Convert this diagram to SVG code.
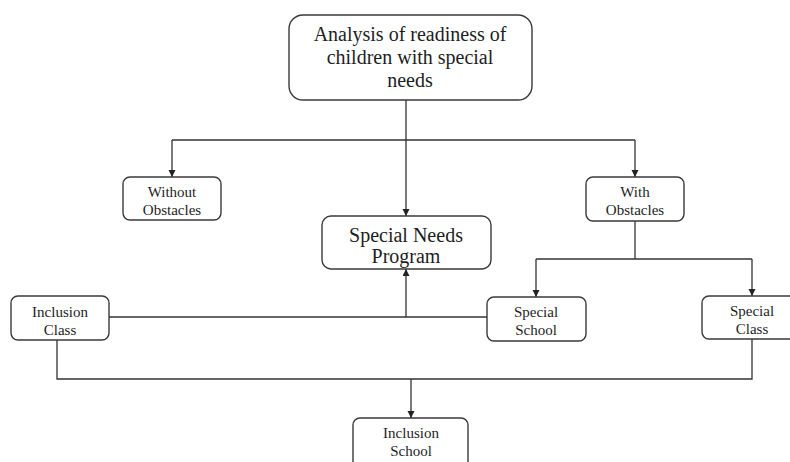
<svg xmlns="http://www.w3.org/2000/svg" width="790" height="462" viewBox="0 0 790 462">
  <style>
    .box { fill: #ffffff; stroke: #3a3a3a; stroke-width: 1.4; }
    .t { font-family: "Liberation Serif", "Times New Roman", serif; fill: #1e1e1e; text-anchor: middle; }
    .big { font-size: 20px; }
    .sm { font-size: 15px; }
    .ln { fill: none; stroke: #333333; stroke-width: 1.3; }
  </style>
  <defs>
    <marker id="arr" markerUnits="userSpaceOnUse" markerWidth="8" markerHeight="8" refX="7" refY="3.5" orient="auto">
      <path d="M0,0 L7,3.5 L0,7 z" fill="#222222"/>
    </marker>
  </defs>
  <rect width="790" height="462" fill="#ffffff"/>

  <g id="connectors">
    <path class="ln" d="M406,100 V216" marker-end="url(#arr)"/>
    <path class="ln" d="M172,140 H635"/>
    <path class="ln" d="M172,140 V177" marker-end="url(#arr)"/>
    <path class="ln" d="M635,140 V177" marker-end="url(#arr)"/>
    <path class="ln" d="M635,221 V259"/>
    <path class="ln" d="M536,259 H752"/>
    <path class="ln" d="M536,259 V297" marker-end="url(#arr)"/>
    <path class="ln" d="M752,259 V296" marker-end="url(#arr)"/>
    <path class="ln" d="M109,317 H487"/>
    <path class="ln" d="M406,317 V269" marker-end="url(#arr)"/>
    <path class="ln" d="M57,340 V379 H752 V339"/>
    <path class="ln" d="M411,379 V418" marker-end="url(#arr)"/>
  </g>

  <g id="analysis">
    <rect class="box" x="289" y="15" width="243" height="85" rx="14"/>
    <text class="t big" x="410" y="41">Analysis of readiness of</text>
    <text class="t big" x="410" y="64">children with special</text>
    <text class="t big" x="410" y="87">needs</text>
  </g>

  <g id="without-obstacles">
    <rect class="box" x="123" y="177" width="98" height="43" rx="7"/>
    <text class="t sm" x="172" y="197">Without</text>
    <text class="t sm" x="172" y="215">Obstacles</text>
  </g>

  <g id="with-obstacles">
    <rect class="box" x="586" y="177" width="98" height="44" rx="7"/>
    <text class="t sm" x="635" y="197">With</text>
    <text class="t sm" x="635" y="215">Obstacles</text>
  </g>

  <g id="special-needs-program">
    <rect class="box" x="322" y="216" width="169" height="53" rx="9"/>
    <text class="t big" x="406" y="242">Special Needs</text>
    <text class="t big" x="406" y="263">Program</text>
  </g>

  <g id="inclusion-class">
    <rect class="box" x="11" y="296" width="98" height="44" rx="7"/>
    <text class="t sm" x="60" y="317">Inclusion</text>
    <text class="t sm" x="60" y="335">Class</text>
  </g>

  <g id="special-school">
    <rect class="box" x="487" y="297" width="99" height="44" rx="7"/>
    <text class="t sm" x="536" y="317">Special</text>
    <text class="t sm" x="536" y="335">School</text>
  </g>

  <g id="special-class">
    <rect class="box" x="702" y="296" width="100" height="43" rx="7"/>
    <text class="t sm" x="752" y="316">Special</text>
    <text class="t sm" x="752" y="334">Class</text>
  </g>

  <g id="inclusion-school">
    <rect class="box" x="353" y="418" width="115" height="50" rx="7"/>
    <text class="t sm" x="411" y="438">Inclusion</text>
    <text class="t sm" x="411" y="456">School</text>
  </g>
</svg>
